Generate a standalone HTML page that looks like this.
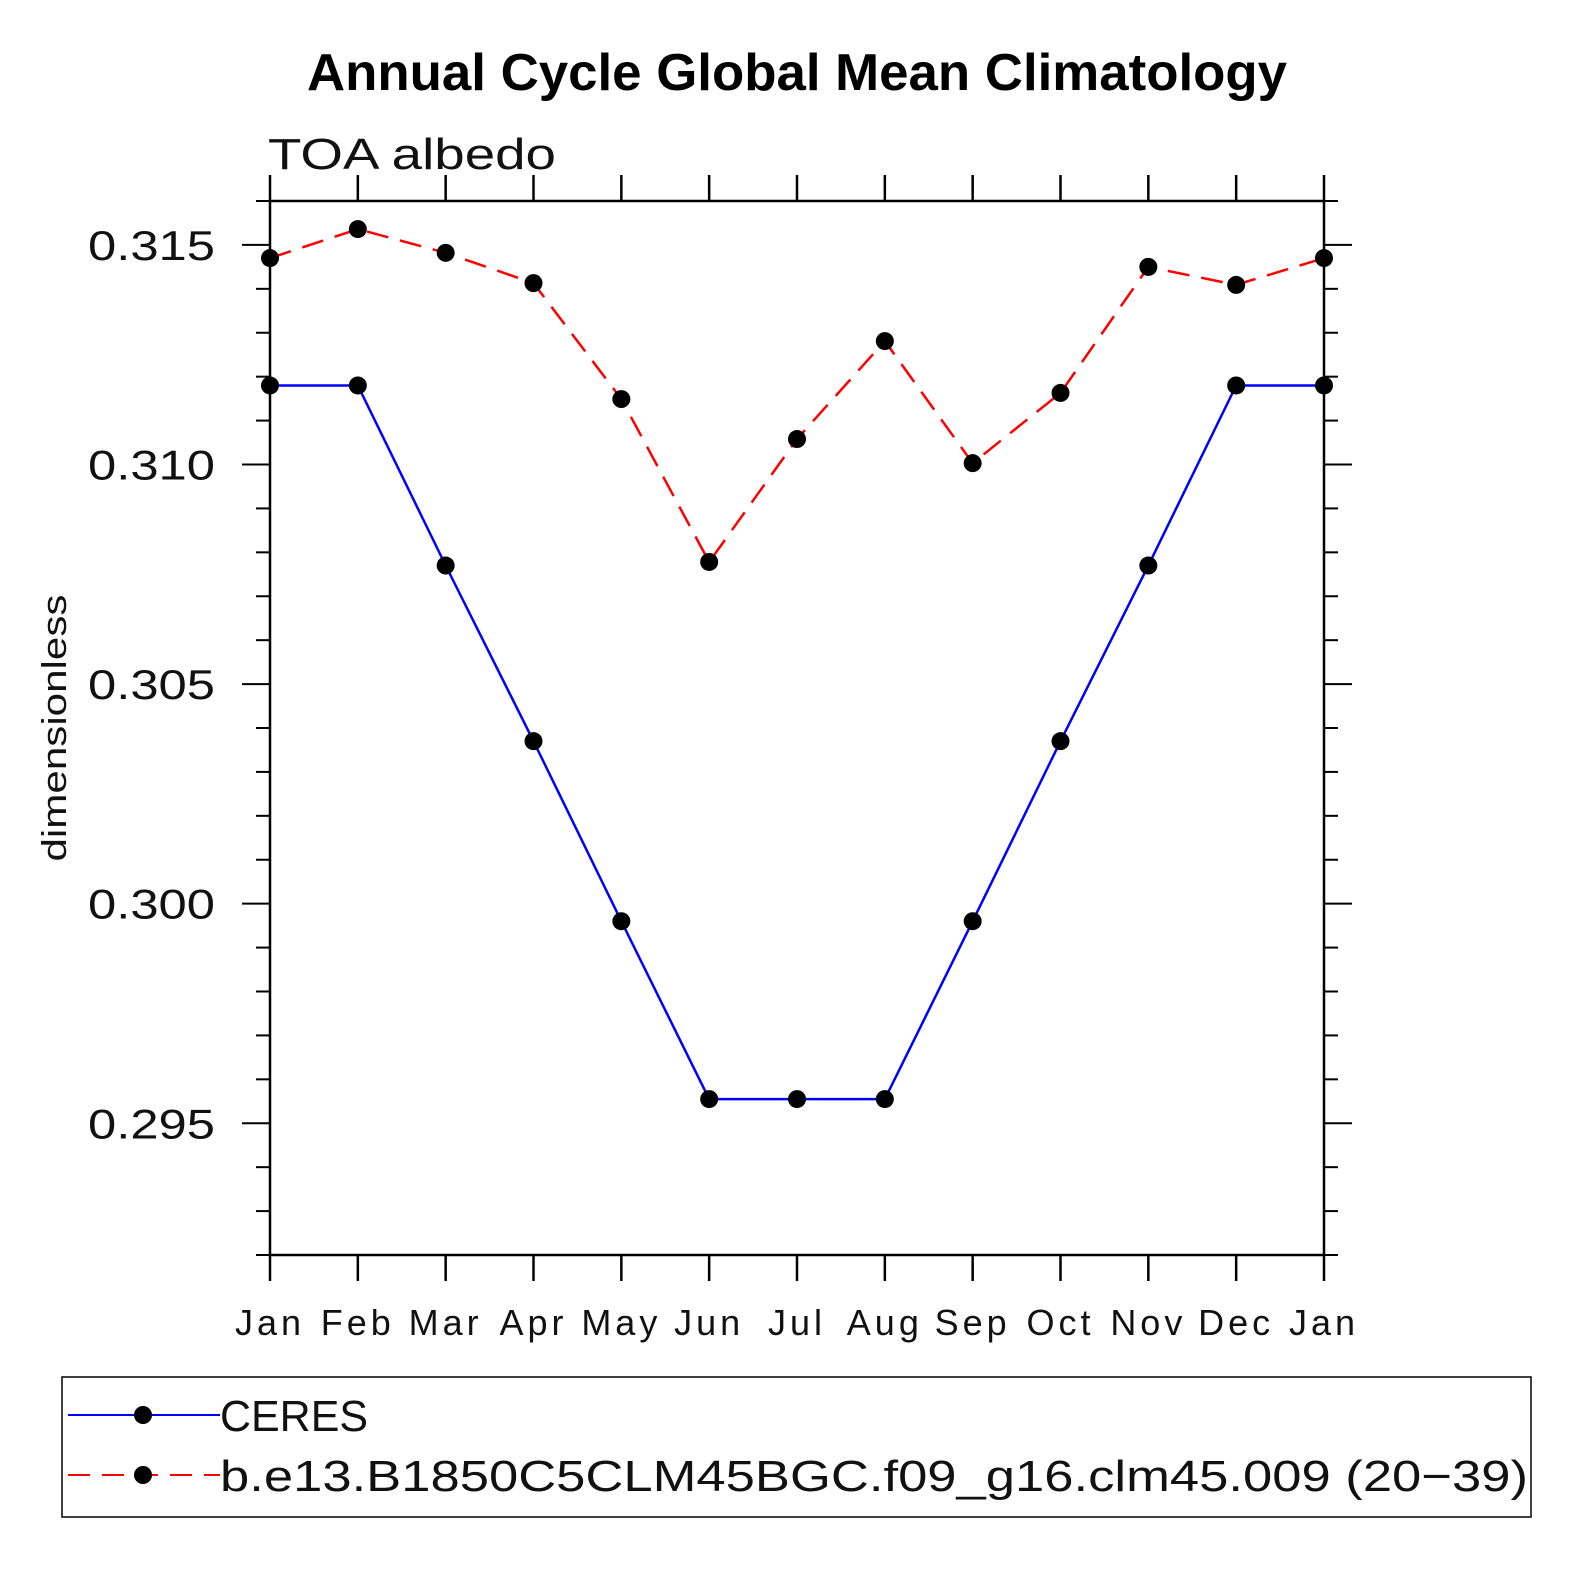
<!DOCTYPE html>
<html><head><meta charset="utf-8"><style>
html,body{margin:0;padding:0;background:#fff;}
svg text{font-family:"Liberation Sans",sans-serif;}
</style></head><body>
<svg id="chart" width="1574" height="1574" viewBox="0 0 1574 1574" xmlns="http://www.w3.org/2000/svg">
<text x="307" y="90" font-size="52" font-weight="bold" textLength="980" lengthAdjust="spacingAndGlyphs">Annual Cycle Global Mean Climatology</text>
<text x="268" y="169" font-size="44" fill="#111" textLength="288" lengthAdjust="spacingAndGlyphs">TOA albedo</text>
<text transform="translate(66,728) rotate(-90)" text-anchor="middle" font-size="34" fill="#111" textLength="267" lengthAdjust="spacingAndGlyphs">dimensionless</text>
<g id="axes"></g>
<g id="series"></g>
<rect x="62" y="1377" width="1469" height="140" fill="none" stroke="#000" stroke-width="1.5"/>
<g>
<line x1="68" y1="1415" x2="220" y2="1415" stroke="#0000ff" stroke-width="2"/>
<circle cx="143" cy="1415" r="9"/>
<text x="220" y="1431" font-size="44" fill="#111" textLength="148" lengthAdjust="spacingAndGlyphs">CERES</text>
</g>
<g>
<line x1="68" y1="1475" x2="220" y2="1475" stroke="#ff0000" stroke-width="2" stroke-dasharray="22,12"/>
<circle cx="143" cy="1475" r="9"/>
<text x="220" y="1491" font-size="44" fill="#111" textLength="1308" lengthAdjust="spacingAndGlyphs">b.e13.B1850C5CLM45BGC.f09_g16.clm45.009 (20−39)</text>
</g>
</svg>
<script>
const months = ["Jan","Feb","Mar","Apr","May","Jun","Jul","Aug","Sep","Oct","Nov","Dec","Jan"];
const ceres = [0.3118,0.3118,0.3077,0.3037,0.2996,0.29555,0.29555,0.29555,0.2996,0.3037,0.3077,0.3118,0.3118];
const model = [0.3147,0.31536,0.31482,0.31413,0.31149,0.30778,0.31058,0.31281,0.31003,0.31163,0.3145,0.31409,0.3147];
const yTicks = [0.295,0.300,0.305,0.310,0.315];
const yTickLabels = ["0.295","0.300","0.305","0.310","0.315"];
const NS="http://www.w3.org/2000/svg";
const L=270,R=1324,T=201,B=1255,yMin=0.292,yMax=0.316;
const xs=i=>L+(R-L)*i/(months.length-1);
const ys=v=>B-(v-yMin)/(yMax-yMin)*(B-T);
function mk(tag,attrs,parent){const e=document.createElementNS(NS,tag);for(const k in attrs)e.setAttribute(k,attrs[k]);parent.appendChild(e);return e;}
const ax=document.getElementById('axes');
const frame=mk('rect',{x:L,y:T,width:R-L,height:B-T,fill:'none',stroke:'#000','stroke-width':2.5},ax);


months.forEach((m,i)=>{
  const x=xs(i);
  mk('line',{x1:x,y1:T,x2:x,y2:T-26,stroke:'#000','stroke-width':2.5},ax);
  mk('line',{x1:x,y1:B,x2:x,y2:B+26,stroke:'#000','stroke-width':2.5},ax);
  const t=mk('text',{x:x,y:1335,'text-anchor':'middle','font-size':36,'letter-spacing':4,fill:'#111'},ax);
  t.textContent=m;
  
  
});
for(let k=0;k<=24;k++){
  const v=yMin+k*0.001;const y=ys(v);
  const major=yTicks.some(t=>Math.abs(t-v)<1e-7);
  const len=major?28:14;
  mk('line',{x1:L,y1:y,x2:L-len,y2:y,stroke:'#000','stroke-width':2},ax);
  mk('line',{x1:R,y1:y,x2:R+len,y2:y,stroke:'#000','stroke-width':2},ax);
}
yTicks.forEach((v,i)=>{
  const t=mk('text',{x:88,y:ys(v)+15,'font-size':42,fill:'#111',textLength:127,lengthAdjust:'spacingAndGlyphs'},ax);
  t.textContent=yTickLabels[i];
  
  
});
const sg=document.getElementById('series');
function series(data,color,dash,name){
  const g=mk('g',{},sg);
  
  
  const attrs={points:data.map((v,i)=>xs(i)+','+ys(v)).join(' '),fill:'none',stroke:color,'stroke-width':2.5};
  if(dash)attrs['stroke-dasharray']=dash;
  mk('polyline',attrs,g);
  data.forEach((v,i)=>{
    const c=mk('circle',{cx:xs(i),cy:ys(v),r:9,fill:'#000'},g);
    
    
  });
}
series(ceres,'#0000ff',null,'ceres-series');
series(model,'#ff0000','22,12','model-series');
</script>
</body></html>
